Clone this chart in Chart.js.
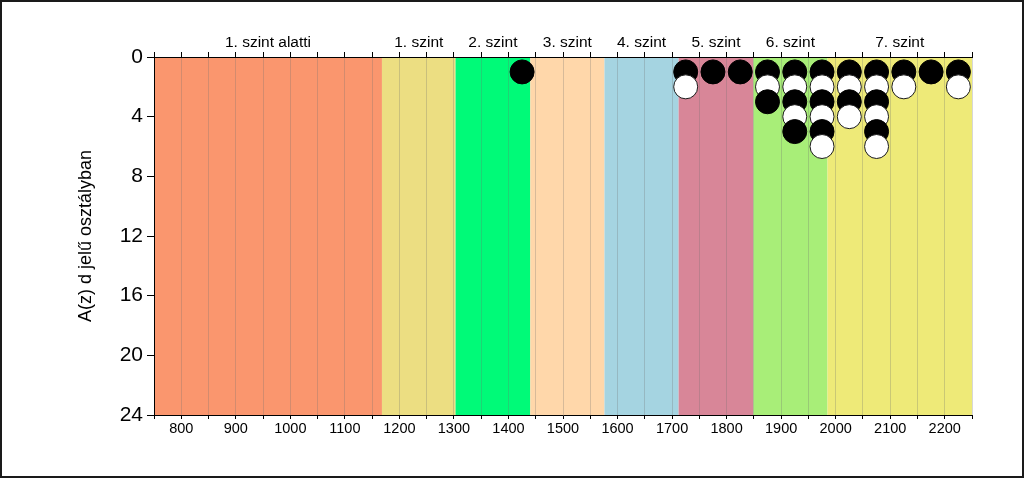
<!DOCTYPE html>
<html>
<head>
<meta charset="utf-8">
<script src="https://cdn.jsdelivr.net/npm/chart.js@4/dist/chart.umd.min.js"></script>
<style>
html,body{margin:0;padding:0;background:#fff;}
#wrap{width:1024px;height:478px;position:relative;}
</style>
</head>
<body>
<div id="wrap"><canvas id="c" width="1024" height="478"></canvas></div>
<script>
// ---- data ----
const levelNames = ['1. szint alatti', '1. szint', '2. szint', '3. szint', '4. szint', '5. szint', '6. szint', '7. szint'];
const levelBounds = [750, 1168, 1303, 1440, 1576, 1712, 1849, 1985, 2250];
const levelColors = ['#FA966E', '#ECDE82', '#00FA78', '#FFD7AA', '#A5D4E1', '#D88698', '#A8EE78', '#EEEA78'];

const blackX = [1425, 1725, 1775, 1825, 1875, 1875, 1925, 1925, 1925, 1975, 1975, 1975, 2025, 2025, 2075, 2075, 2075, 2125, 2175, 2225];
const blackY = [1, 1, 1, 1, 1, 3, 1, 3, 5, 1, 3, 5, 1, 3, 1, 3, 5, 1, 1, 1];
const whiteX = [1725, 1875, 1925, 1925, 1975, 1975, 1975, 2025, 2025, 2075, 2075, 2075, 2125, 2225];
const whiteY = [2, 2, 2, 4, 2, 4, 6, 2, 4, 2, 4, 6, 2, 2];

const xMin = 750, xMax = 2250;
const yTicksMax = 24;
const yTitle = 'A(z) d jelű osztályban';

// ---- build merged point list (drawn in stack order) ----
const pts = [];
blackX.forEach((x, i) => pts.push({x: x, y: blackY[i], c: '#000000', b: '#000000'}));
whiteX.forEach((x, i) => pts.push({x: x, y: whiteY[i], c: '#FFFFFF', b: '#1a1a1a'}));
pts.sort((a, b) => a.x - b.x || a.y - b.y);

const FONT = '"Liberation Sans", Arial, sans-serif';

const bandsPlugin = {
  id: 'bands',
  beforeDraw(chart) {
    const {ctx, chartArea, scales} = chart;
    const xs = scales.x;
    ctx.save();
    for (let i = 0; i < levelNames.length; i++) {
      const x0 = xs.getPixelForValue(levelBounds[i]);
      const x1 = xs.getPixelForValue(levelBounds[i + 1]);
      ctx.fillStyle = levelColors[i];
      ctx.fillRect(x0, chartArea.top, x1 - x0, chartArea.bottom - chartArea.top);
    }
    ctx.restore();
  },
  afterDraw(chart) {
    const {ctx, scales} = chart;
    const xs = scales.x;
    ctx.save();
    ctx.fillStyle = '#000';
    ctx.font = '15.5px ' + FONT;
    ctx.textAlign = 'center';
    ctx.textBaseline = 'middle';
    for (let i = 0; i < levelNames.length; i++) {
      const cx = (xs.getPixelForValue(levelBounds[i]) + xs.getPixelForValue(levelBounds[i + 1])) / 2;
      ctx.fillText(levelNames[i], cx, 43);
    }
    ctx.strokeStyle = '#1a1a1a';
    ctx.lineWidth = 2;
    ctx.strokeRect(1, 1, chart.width - 2, chart.height - 2);
    ctx.restore();
  }
};

new Chart(document.getElementById('c'), {
  type: 'scatter',
  data: {
    datasets: [{
      data: pts.map(p => ({x: p.x, y: p.y})),
      backgroundColor: pts.map(p => p.c),
      borderColor: pts.map(p => p.b),
      borderWidth: 1,
      pointRadius: 12,
      pointHoverRadius: 12,
      clip: false
    }]
  },
  options: {
    responsive: false,
    animation: false,
    events: [],
    layout: {padding: {left: 71, right: 52, top: 0, bottom: 0}},
    plugins: {legend: {display: false}, tooltip: {enabled: false}},
    scales: {
      x: {
        type: 'linear', position: 'bottom', min: xMin, max: xMax,
        afterFit(s) { s.height = 63; },
        afterBuildTicks(s) {
          const t = [];
          for (let v = xMin; v <= xMax; v += 50) t.push({value: v});
          s.ticks = t;
        },
        ticks: {
          autoSkip: false, maxRotation: 0, padding: 1, color: '#000',
          font: {family: FONT, size: 14.5},
          callback: v => (v % 100 === 0 ? String(v) : '')
        },
        grid: {color: 'rgba(110,110,110,0.28)', tickColor: '#000', tickLength: 4, lineWidth: 1},
        border: {color: '#000', width: 1}
      },
      x2: {
        type: 'linear', position: 'top', min: xMin, max: xMax,
        afterFit(s) { s.height = 57; },
        afterBuildTicks(s) {
          const t = [];
          for (let v = xMin; v <= xMax; v += 50) t.push({value: v});
          s.ticks = t;
        },
        ticks: {display: false},
        grid: {drawOnChartArea: false, tickColor: '#000', tickLength: 5},
        border: {color: '#000', width: 1}
      },
      y: {
        type: 'linear', reverse: true, min: 0, max: yTicksMax,
        afterFit(s) { s.width = 83; },
        ticks: {stepSize: 4, padding: 4, color: '#000', font: {family: FONT, size: 21}},
        grid: {drawOnChartArea: false, tickColor: '#000', tickLength: 7},
        border: {color: '#000', width: 1},
        title: {display: true, text: yTitle, color: '#000', font: {family: FONT, size: 18}}
      }
    }
  },
  plugins: [bandsPlugin]
});
</script>
</body>
</html>
